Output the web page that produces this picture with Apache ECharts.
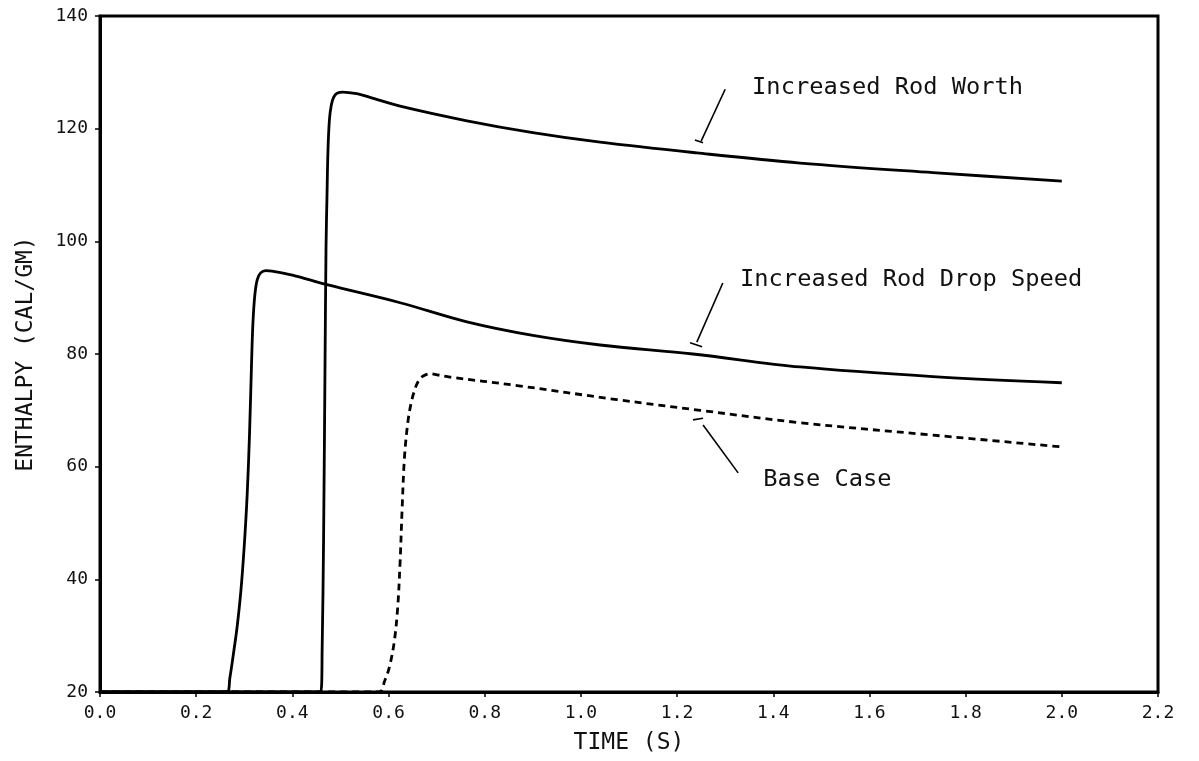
<!DOCTYPE html>
<html lang="en">

<head>
    <meta charset="UTF-8" />
    <title>Enthalpy vs time</title>
    <style>
        html,
        body {
            margin: 0;
            padding: 0;
            background: #fff;
        }

        #main {
            width: 1199px;
            height: 761px;
        }
    </style>
</head>

<body>
    <div id="main"></div>
</body>
<script type="text/javascript" src="https://cdn.jsdelivr.net/npm/echarts/dist/echarts.min.js"></script>
<script type="text/javascript">

    // axis ticks
    var xTicks = [0.0, 0.2, 0.4, 0.6, 0.8, 1.0, 1.2, 1.4, 1.6, 1.8, 2.0, 2.2];
    var yTicks = [20, 40, 60, 80, 100, 120, 140];

    // Increased Rod Worth
    var rodWorthTime = [0, 0.459, 0.462, 0.465, 0.468, 0.470, 0.472, 0.474, 0.477, 0.481, 0.486, 0.493, 0.505, 0.534, 0.560, 0.624, 0.763, 0.900, 1.040, 1.241, 1.456, 1.732, 2.0];
    var rodWorthValue = [20, 20, 28, 48, 79, 99, 108, 116, 121.5, 124.2, 125.6, 126.3, 126.5, 126.2, 125.6, 124.0, 121.4, 119.3, 117.6, 115.7, 113.9, 112.2, 110.7];

    // Increased Rod Drop Speed
    var dropSpeedTime = [0, 0.264, 0.270, 0.277, 0.285, 0.293, 0.300, 0.306, 0.311, 0.315, 0.318, 0.322, 0.327, 0.334, 0.345, 0.358, 0.40, 0.472, 0.624, 0.763, 0.900, 1.040, 1.233, 1.456, 1.732, 2.0];
    var dropSpeedValue = [20, 20, 22.5, 26.5, 31.5, 38, 46, 55, 66, 78, 85.5, 90.5, 93.2, 94.4, 94.8, 94.7, 94.0, 92.3, 89.1, 85.7, 83.3, 81.6, 80.0, 77.7, 76.0, 74.9];

    // Base Case
    var baseCaseTime = [0, 0.580, 0.592, 0.602, 0.612, 0.619, 0.624, 0.628, 0.633, 0.640, 0.647, 0.655, 0.663, 0.672, 0.686, 0.701, 0.728, 0.867, 1.075, 1.248, 1.456, 1.732, 2.0];
    var baseCaseValue = [20, 20, 22, 24.5, 29, 35, 43, 52, 61.5, 67.8, 71.3, 73.8, 75.3, 76.1, 76.5, 76.3, 75.9, 74.4, 71.9, 70.0, 67.8, 65.6, 63.5];

    // annotations (data coords)
    var seriesNames = ['Increased Rod Worth', 'Increased Rod Drop Speed', 'Base Case'];
    var labelAnchors = [[1.356, 127.2], [1.331, 93.1], [1.379, 57.6]];
    var leaderFrom = [[1.300, 127.0], [1.295, 92.6], [1.327, 58.9]];
    var leaderTo = [[1.250, 117.8], [1.241, 82.1], [1.254, 67.4]];
    var markFrom = [[1.237, 118.0], [1.227, 82.0], [1.233, 68.3]];
    var markTo = [[1.254, 117.5], [1.252, 81.3], [1.254, 68.6]];

    var MONO = '"DejaVu Sans Mono", "Liberation Mono", monospace';

    function pairs(t, v) {
        return t.map(function (x, i) { return [x, v[i]]; });
    }

    function makeSeries(idx, t, v, dashed) {
        return {
            name: seriesNames[idx],
            type: 'line',
            data: pairs(t, v),
            showSymbol: false,
            smooth: 0.35,
            lineStyle: {
                color: '#000',
                width: 2.8,
                type: dashed ? [7, 5] : 'solid'
            },
            markLine: {
                silent: true,
                symbol: ['none', 'none'],
                label: { show: false },
                lineStyle: { color: '#000', width: 1.6, type: 'solid' },
                data: [
                    [{ coord: leaderFrom[idx] }, { coord: leaderTo[idx] }],
                    [{ coord: markFrom[idx] }, { coord: markTo[idx] }]
                ]
            },
            markPoint: {
                silent: true,
                symbol: 'circle',
                symbolSize: 0,
                data: [{ coord: labelAnchors[idx] }],
                label: {
                    show: true,
                    position: 'right',
                    distance: 0,
                    formatter: seriesNames[idx],
                    fontFamily: MONO,
                    fontSize: 23.7,
                    color: '#111'
                }
            }
        };
    }

    var myChart = echarts.init(document.getElementById('main'));

    var option = {
        animation: false,
        backgroundColor: '#fff',
        grid: {
            left: 100,
            right: 41,
            top: 16,
            bottom: 69,
            show: true,
            borderColor: '#000',
            borderWidth: 3
        },
        xAxis: {
            type: 'value',
            min: xTicks[0],
            max: xTicks[xTicks.length - 1],
            interval: 0.2,
            name: 'TIME (S)',
            nameLocation: 'middle',
            nameGap: 40,
            nameTextStyle: { fontFamily: MONO, fontSize: 23, color: '#111' },
            axisLine: { lineStyle: { color: '#000', width: 3 } },
            axisTick: { show: true, length: 5, lineStyle: { color: '#000', width: 1.5 } },
            axisLabel: {
                margin: 12,
                fontFamily: MONO,
                fontSize: 18,
                color: '#111',
                formatter: function (v) { return v.toFixed(1); }
            },
            splitLine: { show: false }
        },
        yAxis: {
            type: 'value',
            min: yTicks[0],
            max: yTicks[yTicks.length - 1],
            interval: 20,
            name: 'ENTHALPY (CAL/GM)',
            nameLocation: 'middle',
            nameGap: 62,
            nameTextStyle: { fontFamily: MONO, fontSize: 23, color: '#111' },
            axisLine: { lineStyle: { color: '#000', width: 3 } },
            axisTick: { show: true, length: 5, lineStyle: { color: '#000', width: 1.5 } },
            axisLabel: {
                margin: 12,
                fontFamily: MONO,
                fontSize: 18,
                color: '#111'
            },
            splitLine: { show: false }
        },
        series: [
            makeSeries(0, rodWorthTime, rodWorthValue, false),
            makeSeries(1, dropSpeedTime, dropSpeedValue, false),
            makeSeries(2, baseCaseTime, baseCaseValue, true)
        ]
    };

    myChart.setOption(option);
</script>

</html>
